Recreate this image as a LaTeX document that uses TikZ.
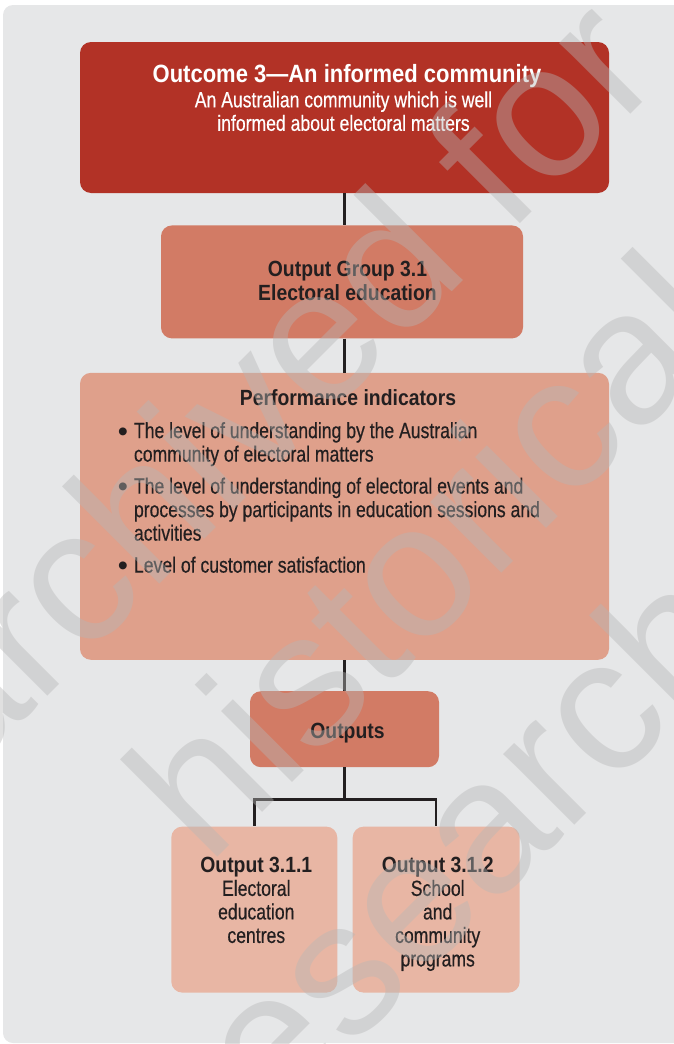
\documentclass[tikz,border=0pt]{standalone}
\usepackage{fontspec}
\setmainfont{Liberation Sans}[FakeStretch=0.8, FakeBold=0.4]
\newfontfamily\boldcond{Liberation Sans}[FakeStretch=0.88]
\newfontfamily\wmfont{Liberation Sans}
\usetikzlibrary{positioning}
\usepackage{xcolor}
\definecolor{pagegrey}{HTML}{E6E7E8}
\definecolor{outcomered}{HTML}{B23226}
\definecolor{groupsalmon}{HTML}{D27B65}
\definecolor{indicsalmon}{HTML}{DFA08B}
\definecolor{leafsalmon}{HTML}{E8B6A4}
\definecolor{inkdark}{HTML}{231F20}
\definecolor{wmgrey}{HTML}{B6B6B6}
\newcommand{\pibullet}{\llap{\raisebox{-3pt}{\wmfont\fontsize{29}{29}\selectfont •}\hspace{6pt}}}
\tikzset{%
	every box/.style={
		rectangle,
		rounded corners=11pt,
		inner sep=0pt,
		draw=none
	},
	box text/.style={
		inner sep=0pt,
		anchor=base,
		align=center,
		text=inkdark,
		font=\fontsize{22}{23.5}\selectfont
	},
	head text/.style={
		box text,
		font=\fontsize{22}{23.5}\boldcond\bfseries
	},
	watermark/.style={
		inner sep=0pt,
		anchor=base,
		rotate=45,
		text=wmgrey,
		opacity=0.42,
		font=\fontsize{190}{232}\wmfont
	},
}
\begin{document}
\begin{tikzpicture}[
			x=1pt, y=-1pt,
			link/.style={draw=inkdark, line width=2.4pt}
			]
			\useasboundingbox (0,0) rectangle (674,1044);
			\clip (0,0) rectangle (674,1044);
			\fill[pagegrey, rounded corners=10pt] (3,5) rectangle (700,1043);
			
			% Boxes of the chart
			\node[every box, fill=outcomered, minimum width=529pt, minimum height=151pt] (outcome) at (344.5,117.5) {};
			\node[every box, fill=groupsalmon, minimum width=362pt, minimum height=113pt, below=32pt of outcome, xshift=-2.5pt] (group) {};
			\node[every box, fill=indicsalmon, minimum width=529pt, minimum height=287pt, below=34pt of group, xshift=2.5pt] (perf) {};
			\node[every box, fill=groupsalmon, minimum width=189pt, minimum height=76pt, below=31pt of perf] (outputs) {};
			\node[every box, fill=leafsalmon, minimum width=166pt, minimum height=166pt, below left=59pt and 7pt of outputs.south] (out1) {};
			\node[every box, fill=leafsalmon, minimum width=167pt, minimum height=166pt, below right=59pt and 8pt of outputs.south] (out2) {};
			
			% Texts of the boxes (base = last line)
			\node[head text, text=white, font=\fontsize{25}{27}\boldcond\bfseries] (outcomehead) at ([xshift=2.5pt,yshift=-41pt]outcome.north) {Outcome 3—An informed community};
			\node[box text, text=white] (outcomesub) at ([xshift=-1pt,yshift=-89pt]outcome.north) {An Australian community which is well\\informed about electoral matters};
			\node[head text] (grouptxt) at ([xshift=5.5pt,yshift=-75pt]group.north) {Output Group 3.1\\Electoral education};
			\node[head text] (perfhead) at ([xshift=3.5pt,yshift=-33pt]perf.north) {Performance indicators};
			\node[box text, anchor=base west, align=left] (perflist) at ([xshift=54pt,yshift=-200pt]perf.north west) {\pibullet The level of understanding by the Australian\\community of electoral matters\\[8.5pt]\pibullet The level of understanding of electoral events and\\processes by participants in education sessions and\\activities\\[8.5pt]\pibullet Level of customer satisfaction};
			\node[head text] (outputstxt) at ([xshift=3pt,yshift=-47pt]outputs.north) {Outputs};
			\node[box text] (out1txt) at ([xshift=2pt,yshift=-116.5pt]out1.north) {{\boldcond\bfseries Output 3.1.1}\\Electoral\\education\\centres};
			\node[box text] (out2txt) at ([xshift=1.5pt,yshift=-140pt]out2.north) {{\boldcond\bfseries Output 3.1.2}\\School\\and\\community\\programs};
			
			% Connectors
			\draw[link] (outcome.south) -- (outcome.south |- group.north);
			\draw[link] (outcome.south |- group.south) -- (outcome.south |- perf.north);
			\draw[link] (perf.south) -- (perf.south |- outputs.north);
			\coordinate (fork) at ([yshift=-32pt]outputs.south);
			\draw[link] (outputs.south) -- (fork) -| (out1.north);
			\draw[link] (fork) -| (out2.north);
			
			% Watermark
			\node[watermark] (wmtop) at (315,429) {archived for};
			\node[watermark] (wmmid) at (474,601) {historical};
			\node[watermark] (wmlow) at (491,909) {research};
			
		\end{tikzpicture}
\end{document}
